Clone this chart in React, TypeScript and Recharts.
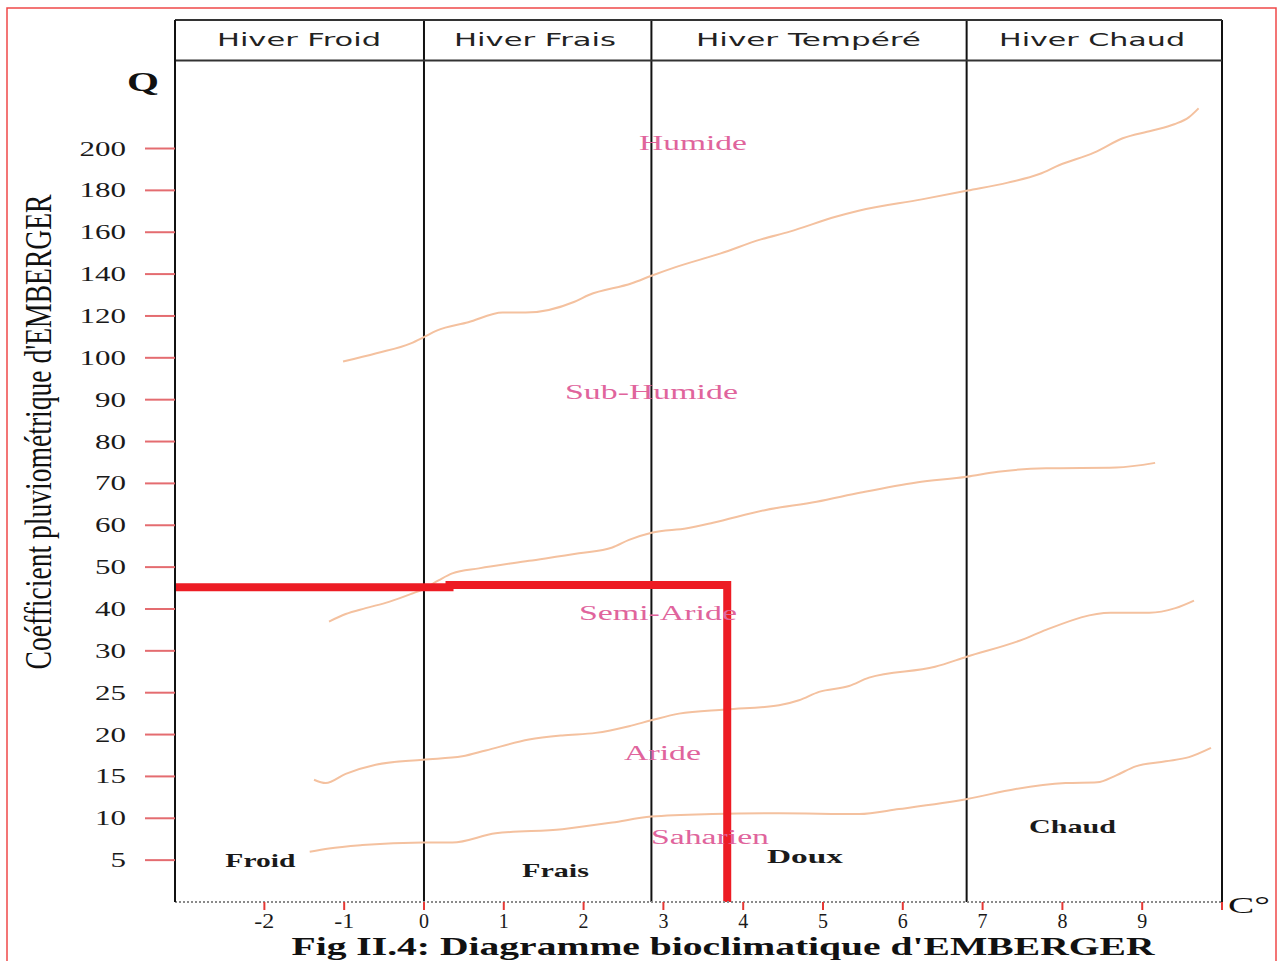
import React from 'react';
import { LineChart, Line, XAxis, YAxis, ReferenceLine, ReferenceDot } from 'recharts';

// Emberger Q axis: ticks are evenly spaced on the diagram
const Q_TICKS = [0, 5, 10, 15, 20, 25, 30, 40, 50, 60, 70, 80, 90, 100, 120, 140, 160, 180, 200];
const T_TICKS = [-2, -1, 0, 1, 2, 3, 4, 5, 6, 7, 8, 9, 10];
const T_DOMAIN: [number, number] = [-3.12, 10];
const Y_TOP_Q = 261.4;

// winter-type column boundaries (m, °C)
const WINTER_BOUNDS = [0, 2.85, 6.8, 10];
const HEADER_Q = 242; // header bottom line
const WINTERS = ['Hiver Froid', 'Hiver Frais', 'Hiver Tempéré', 'Hiver Chaud'];
const WINTER_T = [-1.566, 1.391, 4.818, 8.371];
const WINTER_W = [164, 162, 225, 186];

// boundary curves: [m (°C), Q]
const HUMIDE: [number, number][] = [
  [-1.014, 99.1], [-0.596, 102.2], [-0.165, 106.9], [-0.006, 109.8], [0.159, 113], [0.555, 117],
  [0.986, 121.6], [1.274, 121.6], [1.886, 126.8], [2.065, 130], [2.605, 135.6], [2.85, 139.2],
  [3.144, 143.2], [3.719, 149.9], [4.223, 156.6], [4.583, 160.3], [5.158, 167.4], [5.446, 170.3],
  [6.238, 175.7], [6.813, 179.9], [7.317, 183.7], [7.712, 187.8], [7.964, 192.1], [8.396, 198],
  [8.756, 204.9], [9.115, 208.5], [9.402, 211.6], [9.583, 214.9], [9.706, 219.2],
];
const SUB_HUMIDE: [number, number][] = [
  [-1.19, 37.0], [-0.981, 38.8], [-0.731, 40.2], [-0.439, 41.7], [-0.147, 43.7], [-0.013, 44.7],
  [0.188, 46.9], [0.355, 48.5], [0.689, 49.7], [1.316, 51.5], [1.942, 53.3], [2.36, 54.7],
  [2.569, 56.5], [2.852, 58.2], [3.297, 59.3], [3.622, 60.6], [4.271, 63.6], [4.92, 65.6],
  [5.476, 67.8], [6.172, 70.2], [6.802, 71.6], [7.192, 72.8], [7.794, 73.6], [8.674, 73.8],
  [9.162, 74.9],
];
const SEMI_ARIDE: [number, number][] = [
  [-1.378, 14.6], [-1.232, 14.2], [-0.981, 15.3], [-0.605, 16.4], [-0.013, 17.0], [0.48, 17.4],
  [0.773, 18.1], [1.316, 19.4], [1.733, 19.9], [2.152, 20.2], [2.569, 21.0], [2.848, 21.7],
  [3.195, 22.5], [3.781, 23.0], [4.449, 23.5], [4.699, 24.1], [4.95, 25.1], [5.326, 25.8],
  [5.576, 26.8], [6.404, 28.1], [6.802, 29.3], [7.516, 32.8], [7.794, 35.0], [8.605, 39.1],
  [9.091, 39.1], [9.416, 40.2], [9.649, 42.0],
];
const ARIDE: [number, number][] = [
  [-1.432, 6.0], [-1.19, 6.4], [-0.773, 6.8], [-0.013, 7.1], [0.355, 7.1], [0.898, 8.2],
  [1.733, 8.7], [2.36, 9.5], [2.848, 10.2], [3.613, 10.5], [4.449, 10.6], [5.451, 10.5],
  [5.952, 11.1], [6.808, 12.3], [7.415, 13.5], [8.041, 14.2], [8.437, 14.3], [8.668, 15.1],
  [8.918, 16.2], [9.294, 16.8], [9.586, 17.3], [9.862, 18.4],
];
// station position (m = 3.8 °C, Q ≈ 45.5)
const STATION: [number, number][] = [
  [-3.12, 45.2], [0.32, 45.2], [0.32, 45.7], [3.8, 45.7], [3.8, 0],
];

const ZONE_LABELS = ['Humide', 'Sub-Humide', 'Semi-Aride', 'Aride', 'Saharien'];
const ZONE_POS: [number, number][] = [[3.371, 202.6], [2.851, 91.8], [2.932, 39.0], [2.989, 17.8], [3.584, 7.8]];
const ZONE_W = [108, 173, 158, 77, 118];

const VAR_LABELS = ['Froid', 'Frais', 'Doux', 'Chaud'];
const VAR_POS: [number, number][] = [[-2.05, 5.0], [1.648, 3.8], [4.774, 5.4], [8.126, 9.0]];
const VAR_W = [70, 67, 76, 87];

function qToIdx(q: number): number {
  for (let i = 1; i < Q_TICKS.length; i++) {
    if (q <= Q_TICKS[i]) {
      const a = Q_TICKS[i - 1];
      const b = Q_TICKS[i];
      return i - 1 + (q - a) / (b - a);
    }
  }
  const n = Q_TICKS.length - 1;
  const step = Q_TICKS[n] - Q_TICKS[n - 1];
  return n + (q - Q_TICKS[n]) / step;
}

const toRows = (arr: [number, number][]) => arr.map(([t, q]) => ({ t, y: qToIdx(q) }));

const SERIES = [
  { name: 'humide', data: HUMIDE },
  { name: 'subhumide', data: SUB_HUMIDE },
  { name: 'semiaride', data: SEMI_ARIDE },
  { name: 'aride', data: ARIDE },
];

const SERIF = "'Liberation Serif', 'Times New Roman', serif";
const SANS = "'DejaVu Sans', Verdana, sans-serif";

const makeLabel = (text: string, width: number, style: any) => (props: any) => {
  const vb = props.viewBox || {};
  const cx = (vb.x ?? 0) + (vb.width ?? 0) / 2;
  const cy = (vb.y ?? 0) + (vb.height ?? 0) / 2;
  return (
    <text
      x={cx}
      y={cy}
      textAnchor="middle"
      dominantBaseline="central"
      textLength={width}
      lengthAdjust="spacingAndGlyphs"
      {...style}
    >
      {text}
    </text>
  );
};

const YTick = (props: any) => {
  const { x, y, payload } = props;
  const label = String(Q_TICKS[Math.round(payload.value)]);
  return (
    <text
      x={x}
      y={y}
      textAnchor="end"
      dominantBaseline="central"
      fontFamily={SERIF}
      fontSize={20}
      fill="#1a1a1a"
      textLength={label.length * 15.5}
      lengthAdjust="spacingAndGlyphs"
    >
      {label}
    </text>
  );
};

const XTick = (props: any) => {
  const { x, y, payload } = props;
  if (payload.value === 10) return <g />;
  const label = String(payload.value);
  return (
    <text
      x={x}
      y={y}
      textAnchor="middle"
      dominantBaseline="central"
      fontFamily={SERIF}
      fontSize={20}
      fill="#1a1a1a"
      textLength={label.length * 10}
      lengthAdjust="spacingAndGlyphs"
    >
      {label}
    </text>
  );
};

export default function App() {
  const hdrMid = qToIdx(HEADER_Q) + (qToIdx(Y_TOP_Q) - qToIdx(HEADER_Q)) / 2;
  return (
    <div style={{ position: 'absolute', left: 0, top: 0, width: 1281, height: 961, background: '#fff', overflow: 'hidden' }}>
      <LineChart width={1281} height={961} margin={{ top: 20, right: 59, bottom: 29, left: 75 }}>
        <XAxis
          dataKey="t"
          type="number"
          domain={T_DOMAIN}
          ticks={T_TICKS}
          allowDataOverflow
          height={30}
          axisLine={{ stroke: '#8a8a8a', strokeWidth: 2, strokeDasharray: '2 2' }}
          tickLine={{ stroke: '#e53935', strokeWidth: 2 }}
          tickSize={8}
          tickMargin={11}
          tick={<XTick />}
        />
        <YAxis
          dataKey="y"
          type="number"
          domain={[0, qToIdx(Y_TOP_Q)]}
          ticks={Q_TICKS.slice(1).map((q) => qToIdx(q))}
          allowDataOverflow
          width={100}
          axisLine={{ stroke: '#111', strokeWidth: 2 }}
          tickLine={{ stroke: '#e46c70', strokeWidth: 2 }}
          tickSize={30}
          tickMargin={19}
          tick={<YTick />}
        />
        {WINTER_BOUNDS.map((b) => (
          <ReferenceLine key={'v' + b} x={b} stroke="#111" strokeWidth={2} />
        ))}
        <ReferenceLine y={qToIdx(HEADER_Q)} stroke="#333" strokeWidth={2} />
        <ReferenceLine y={qToIdx(Y_TOP_Q)} stroke="#333" strokeWidth={2} />
        {SERIES.map((s) => (
          <Line
            key={s.name}
            data={toRows(s.data)}
            dataKey="y"
            type="monotone"
            stroke="#f4c19f"
            strokeWidth={2}
            dot={false}
            activeDot={false}
            isAnimationActive={false}
          />
        ))}
        <Line
          data={toRows(STATION)}
          dataKey="y"
          type="linear"
          stroke="#ed1c24"
          strokeWidth={8}
          strokeLinecap="round"
          strokeLinejoin="miter"
          dot={false}
          activeDot={false}
          isAnimationActive={false}
        />
        {WINTERS.map((w, i) => (
          <ReferenceDot
            key={w}
            x={WINTER_T[i]}
            y={hdrMid}
            r={0}
            fill="none"
            stroke="none"
            label={makeLabel(w, WINTER_W[i], { fontFamily: SANS, fontSize: 17, fill: '#222' })}
          />
        ))}
        {ZONE_LABELS.map((z, i) => (
          <ReferenceDot
            key={z}
            x={ZONE_POS[i][0]}
            y={qToIdx(ZONE_POS[i][1])}
            r={0}
            fill="none"
            stroke="none"
            label={makeLabel(z, ZONE_W[i], { fontFamily: SERIF, fontSize: 20, fill: '#e0649c' })}
          />
        ))}
        {VAR_LABELS.map((v, i) => (
          <ReferenceDot
            key={v}
            x={VAR_POS[i][0]}
            y={qToIdx(VAR_POS[i][1])}
            r={0}
            fill="none"
            stroke="none"
            label={makeLabel(v, VAR_W[i], { fontFamily: SERIF, fontSize: 19, fontWeight: 'bold', fill: '#1a1a1a' })}
          />
        ))}
      </LineChart>
      <svg width={1281} height={961} style={{ position: 'absolute', left: 0, top: 0, pointerEvents: 'none' }}>
        <path d="M7,961 L7,8 L1276,8 L1276,961" fill="none" stroke="#f04848" strokeWidth={1.5} />
        <text
          transform="translate(51,432) rotate(-90)"
          textAnchor="middle"
          fontFamily={SERIF}
          fontSize={38}
          fill="#111"
          textLength={475}
          lengthAdjust="spacingAndGlyphs"
        >
          Coéfficient pluviométrique d'EMBERGER
        </text>
        <text x={143} y={91} textAnchor="middle" fontFamily={SERIF} fontWeight="bold" fontSize={27} fill="#111" textLength={32} lengthAdjust="spacingAndGlyphs">
          Q
        </text>
        <text x={1228} y={913} fontFamily={SERIF} fontSize={24} fill="#111" textLength={42} lengthAdjust="spacingAndGlyphs">
          C°
        </text>
        <text x={723} y={955} textAnchor="middle" fontFamily={SERIF} fontWeight="bold" fontSize={25} fill="#111" textLength={863} lengthAdjust="spacingAndGlyphs">
          Fig II.4: Diagramme bioclimatique d'EMBERGER
        </text>
      </svg>
    </div>
  );
}
